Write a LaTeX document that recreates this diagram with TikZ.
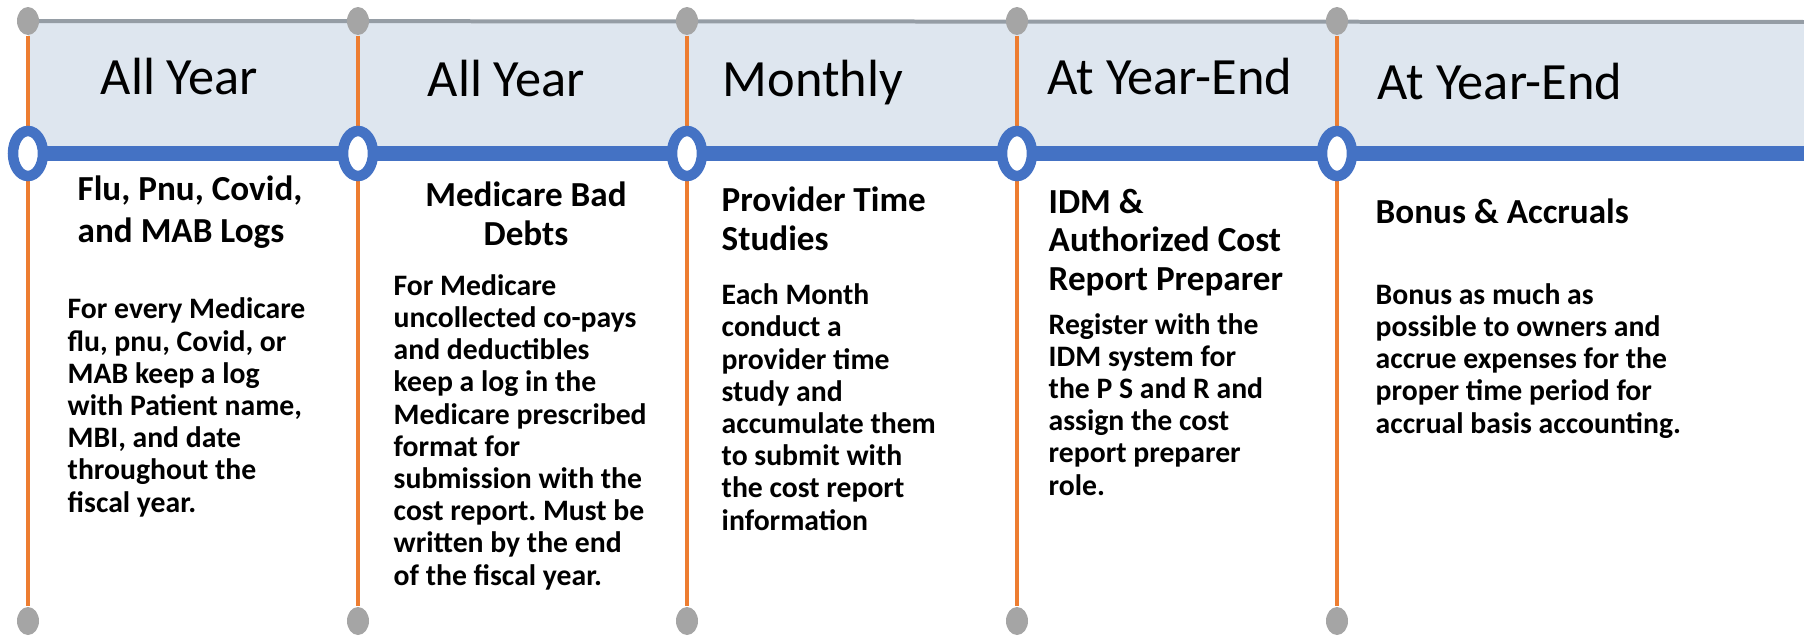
\documentclass[tikz,border=0pt]{standalone}
\usepackage{fontspec}
\setmainfont{Carlito}
\usepackage{xcolor}
\usetikzlibrary{positioning,shapes.geometric,backgrounds}

\definecolor{bandfill}{HTML}{DEE6EF}
\definecolor{bandline}{HTML}{959DA5}
\definecolor{dotgray}{HTML}{A5A5A5}
\definecolor{tickorange}{HTML}{ED7D31}
\definecolor{ringblue}{HTML}{4472C4}

\begin{document}
\frenchspacing
\begin{tikzpicture}[
	top_dot/.style={
		ellipse, fill=dotgray, inner sep=0pt,
		minimum width=0.22cm, minimum height=0.28cm
	},
	ring_node/.style={
		ellipse, draw=ringblue, fill=white, line width=0.105cm, inner sep=0pt,
		minimum width=0.30cm, minimum height=0.45cm
	},
	tick_line/.style={draw=tickorange, line width=0.04cm},
	head_text/.style={anchor=base west, inner sep=0pt,
		font=\fontsize{14.9pt}{17pt}\selectfont},
	sub_text/.style={anchor=base west, inner sep=0pt, align=left,
		font=\bfseries\fontsize{10pt}{10.95pt}\selectfont},
	body_text/.style={anchor=base west, inner sep=0pt, align=left,
		font=\bfseries\fontsize{8.45pt}{9.16pt}\selectfont}
	]
	\useasboundingbox (0,0) rectangle (18.04,-6.35);
	
	% --- 1. dots on the top band, rings on the timeline, dots at the bottom ---
	\node[top_dot] (T1) at (0.28, -0.21) {};
	\node[top_dot] (T2) at (3.58, -0.21) {};
	\node[top_dot] (T3) at (6.87, -0.21) {};
	\node[top_dot] (T4) at (10.17, -0.21) {};
	\node[top_dot] (T5) at (13.37, -0.21) {};
	
	\node[ring_node] (R1) at (0.28, -1.535) {};
	\node[ring_node] (R2) at (3.58, -1.535) {};
	\node[ring_node] (R3) at (6.87, -1.535) {};
	\node[ring_node] (R4) at (10.17, -1.535) {};
	\node[ring_node] (R5) at (13.37, -1.535) {};
	
	\node[top_dot] (B1) at (0.28, -6.21) {};
	\node[top_dot] (B2) at (3.58, -6.21) {};
	\node[top_dot] (B3) at (6.87, -6.21) {};
	\node[top_dot] (B4) at (10.17, -6.21) {};
	\node[top_dot] (B5) at (13.37, -6.21) {};
	
	\coordinate (band_end) at (18.04, -0.22);
	\coordinate (line_end) at (18.04, -1.535);
	
	% --- 2. band, lines and ticks behind the dots ---
	\begin{scope}[on background layer]
		\fill[bandfill] (T1.center) rectangle (line_end);
		\draw[bandline, line width=0.04cm] (T1.center) -- (band_end);
		\draw[tick_line] (T1) -- (B1);
		\draw[tick_line] (T2) -- (B2);
		\draw[tick_line] (T3) -- (B3);
		\draw[tick_line] (T4) -- (B4);
		\draw[tick_line] (T5) -- (B5);
		\draw[ringblue, line width=0.15cm] (R1.center) -- (line_end);
	\end{scope}
	
	% --- 3. headings in the band ---
	\node[head_text] (H1) at (1.00, -0.95) {All Year};
	\node[head_text] (H2) at (4.27, -0.97) {All Year};
	\node[head_text] (H3) at (7.22, -0.97) {Monthly};
	\node[head_text] (H4) at (10.47, -0.95) {At Year-End};
	\node[head_text] (H5) at (13.77, -0.99) {At Year-End};
	
	% --- 4. titles under the timeline (base = last line) ---
	\node[sub_text, font=\bfseries\fontsize{10pt}{11.95pt}\selectfont] (S1) at (0.77, -2.42)
	{Flu, Pnu, Covid,\\and MAB Logs};
	\node[sub_text, anchor=base, align=center] (S2) at (5.26, -2.45)
	{Medicare Bad\\Debts};
	\node[sub_text] (S3) at (7.21, -2.50) {Provider Time\\Studies};
	\node[sub_text] (S4) at (10.48, -2.90)
	{IDM \&\\Authorized Cost\\Report Preparer};
	\node[sub_text] (S5) at (13.75, -2.23) {Bonus \& Accruals};
	
	% --- 5. descriptions ---
	\node[body_text] (D1) at (0.67, -5.12)
	{For every Medicare\\flu, pnu, Covid, or\\MAB keep a log\\with Patient name,\\MBI, and date\\throughout the\\fiscal year.};
	\node[body_text] (D2) at (3.93, -5.85)
	{For Medicare\\uncollected co-pays\\and deductibles\\keep a log in the\\Medicare prescribed\\format for\\submission with the\\cost report. Must be\\written by the end\\of the fiscal year.};
	\node[body_text] (D3) at (7.21, -5.30)
	{Each Month\\conduct a\\provider time\\study and\\accumulate them\\to submit with\\the cost report\\information};
	\node[body_text] (D4) at (10.48, -4.95)
	{Register with the\\IDM system for\\the P S and R and\\assign the cost\\report preparer\\role.};
	\node[body_text] (D5) at (13.75, -4.33)
	{Bonus as much as\\possible to owners and\\accrue expenses for the\\proper time period for\\accrual basis accounting.};
	
\end{tikzpicture}
\end{document}
